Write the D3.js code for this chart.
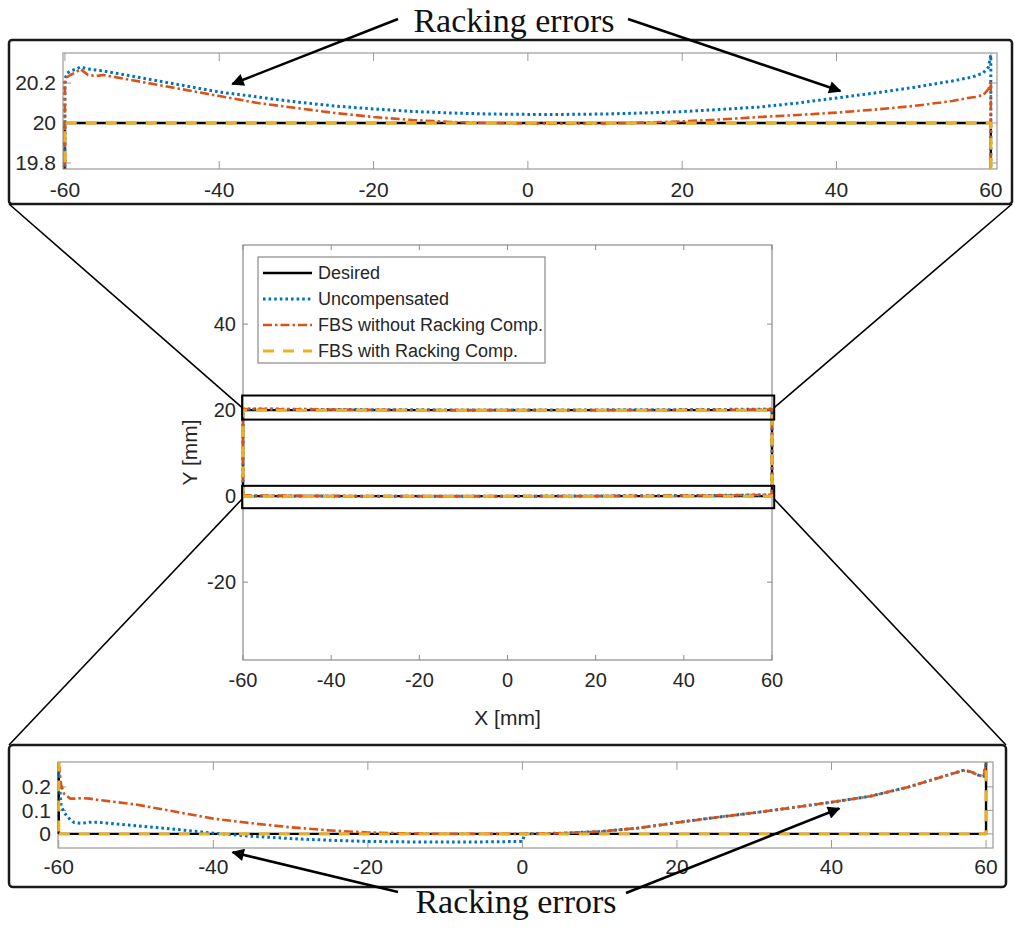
<!DOCTYPE html>
<html>
<head>
<meta charset="utf-8">
<script src="https://cdn.jsdelivr.net/npm/d3@7"></script>
<style>
body { margin: 0; background: #fff; }
text { font-family: "Liberation Sans", Arial, sans-serif; fill: #262626; }
</style>
</head>
<body>
<script>
// x positions shared by the measured paths (mm)
var xs = [-60, -59.7, -59.3, -58.5, -58, -57, -56, -55, -50, -45, -40, -35, -30, -25, -20, -15, -10, -5,
  0, 0.3, 5, 10, 15, 20, 25, 30, 35, 40, 45, 50, 55, 57, 58, 59, 59.7, 60];

// bottom edge (y ~ 0) and top edge (y ~ 20) of the traced rectangle
var blueBottom = [0.25, 0.12, 0.09, 0.06, 0.048, 0.045, 0.05, 0.05, 0.035, 0.02, 0.003, -0.01, -0.02, -0.027, -0.032, -0.034, -0.035, -0.034,
  -0.032, 0.0, 0.003, 0.01, 0.025, 0.048, 0.07, 0.09, 0.112, 0.135, 0.16, 0.2, 0.25, 0.27, 0.265, 0.25, 0.245, 0.3];
var blueTop = [20.22, 20.25, 20.26, 20.27, 20.28, 20.27, 20.265, 20.26, 20.225, 20.19, 20.155, 20.13, 20.105, 20.085, 20.07, 20.058, 20.05, 20.045,
  20.043, 20.043, 20.043, 20.045, 20.05, 20.057, 20.068, 20.08, 20.1, 20.125, 20.15, 20.178, 20.21, 20.225, 20.235, 20.25, 20.28, 20.34];
var redBottom = [0.3, 0.21, 0.17, 0.15, 0.15, 0.152, 0.15, 0.145, 0.125, 0.095, 0.065, 0.045, 0.028, 0.015, 0.006, 0.002, 0.0, 0.0,
  0.0, 0.0, 0.003, 0.01, 0.025, 0.048, 0.07, 0.09, 0.112, 0.135, 0.16, 0.2, 0.25, 0.27, 0.265, 0.25, 0.245, 0.3];
var redTop = [20.2, 20.23, 20.24, 20.255, 20.27, 20.24, 20.235, 20.24, 20.205, 20.17, 20.135, 20.1, 20.075, 20.05, 20.03, 20.015, 20.005, 20.0,
  19.998, 19.998, 19.997, 19.998, 20.002, 20.008, 20.018, 20.03, 20.04, 20.052, 20.067, 20.085, 20.11, 20.125, 20.13, 20.14, 20.17, 20.21];

// desired path and the compensated one (corners of the rectangle)
var desiredX = [-60, 60, 60, -60, -60];
var desiredY = [0, 0, 20, 20, 0];
var withCompX = [-60, 60, 60, -60, -60];
var withCompY = [0, 0, 20, 20, 0];

var legendLabels = ["Desired", "Uncompensated", "FBS without Racking Comp.", "FBS with Racking Comp."];
var xTicks = [-60, -40, -20, 0, 20, 40, 60];
var mainYTicks = [-20, 0, 20, 40];
var topYTicks = [19.8, 20, 20.2];
var bottomYTicks = [0, 0.1, 0.2];
var topYLabels = ["19.8", "20", "20.2"];
var bottomYLabels = ["0", "0.1", "0.2"];

// zoom windows marked on the main plot
var zoomX = [-60.2, 60.5];
var zoomTopY = [17.8, 23.4];
var zoomBottomY = [-2.8, 2.4];

var W = 1015, H = 930;
var svg = d3.select("body").append("svg").attr("width", W).attr("height", H);

var defs = svg.append("defs");
defs.append("marker").attr("id", "arrow")
  .attr("viewBox", "0 0 10 10").attr("refX", 9).attr("refY", 5)
  .attr("markerWidth", 6).attr("markerHeight", 5).attr("markerUnits", "strokeWidth")
  .attr("orient", "auto")
  .append("path").attr("d", "M0,0 L10,5 L0,10 z").attr("fill", "#000");

var ring = function(bottom, top){
  var pts = xs.map(function(x, i){ return [x, bottom[i]]; });
  for (var i = xs.length - 1; i >= 0; i--) pts.push([xs[i], top[i]]);
  pts.push([xs[0], bottom[0]]);
  return pts;
};
var corners = function(cx, cy){
  return cx.map(function(x, i){ return [x, cy[i]]; });
};

var series = [
  {pts: corners(desiredX, desiredY), color: "#000000", dash: null, w: 2.4},
  {pts: ring(blueBottom, blueTop), color: "#0072BD", dash: "2.6,3", w: 3},
  {pts: ring(redBottom, redTop), color: "#D95319", dash: "9,3,2.5,3", w: 2.6},
  {pts: corners(withCompX, withCompY), color: "#EDB120", dash: "11,9", w: 3}
];

var drawAxesBox = function(g, x, y, xt, yt, ylabels, tickLen, fs, labelDy, boxColor){
  var x0 = x.range()[0], x1 = x.range()[1], y0 = y.range()[0], y1 = y.range()[1];
  g.append("rect").attr("x", x0).attr("y", y1).attr("width", x1 - x0).attr("height", y0 - y1)
    .attr("fill", "#fff").attr("stroke", boxColor).attr("stroke-width", 1.2);
  xt.forEach(function(t){
    var px = x(t);
    g.append("line").attr("x1", px).attr("x2", px).attr("y1", y0).attr("y2", y0 - tickLen).attr("stroke", boxColor);
    g.append("line").attr("x1", px).attr("x2", px).attr("y1", y1).attr("y2", y1 + tickLen).attr("stroke", boxColor);
    g.append("text").attr("x", px).attr("y", y0 + labelDy).attr("text-anchor", "middle")
      .attr("font-size", fs).text(t);
  });
  yt.forEach(function(t, i){
    var py = y(t);
    g.append("line").attr("x1", x0).attr("x2", x0 + tickLen).attr("y1", py).attr("y2", py).attr("stroke", boxColor);
    g.append("line").attr("x1", x1).attr("x2", x1 - tickLen).attr("y1", py).attr("y2", py).attr("stroke", boxColor);
    g.append("text").attr("x", x0 - 7).attr("y", py).attr("dy", "0.35em").attr("text-anchor", "end")
      .attr("font-size", fs).text(ylabels ? ylabels[i] : t);
  });
};

var drawSeries = function(g, x, y, clipId){
  var line = d3.line().x(function(d){ return x(d[0]); }).y(function(d){ return y(d[1]); });
  var x0 = x.range()[0], x1 = x.range()[1], y0 = y.range()[0], y1 = y.range()[1];
  defs.append("clipPath").attr("id", clipId).append("rect")
    .attr("x", x0 - 2).attr("y", y1).attr("width", x1 - x0 + 4).attr("height", y0 - y1);
  var lg = g.append("g").attr("clip-path", "url(#" + clipId + ")");
  series.forEach(function(s){
    lg.append("path").attr("d", line(s.pts)).attr("fill", "none")
      .attr("stroke", s.color).attr("stroke-width", s.w)
      .attr("stroke-dasharray", s.dash).attr("stroke-linejoin", "round");
  });
};

// ---------- main plot ----------
var mx = d3.scaleLinear().domain([-60, 60]).range([243, 772]);
var my = d3.scaleLinear().domain([-38.1, 58.4]).range([660, 245]);
var mg = svg.append("g");
drawAxesBox(mg, mx, my, xTicks, mainYTicks, null, 5, 20, 27, "#8a8a8a");
drawSeries(mg, mx, my, "clipMain");

mg.append("text").attr("x", (243 + 772) / 2).attr("y", 725).attr("text-anchor", "middle")
  .attr("font-size", 21).text("X [mm]");
mg.append("text").attr("transform", "translate(197," + ((245 + 660) / 2) + ") rotate(-90)")
  .attr("text-anchor", "middle").attr("font-size", 21).text("Y [mm]");

// legend
var lgd = mg.append("g");
lgd.append("rect").attr("x", 258).attr("y", 257).attr("width", 287).attr("height", 106)
  .attr("fill", "#fff").attr("stroke", "#8a8a8a").attr("stroke-width", 1.2);
legendLabels.forEach(function(lab, i){
  var s = series[i], ly = 273 + i * 26;
  lgd.append("line").attr("x1", 263).attr("x2", 312).attr("y1", ly).attr("y2", ly)
    .attr("stroke", s.color).attr("stroke-width", s.w).attr("stroke-dasharray", s.dash);
  lgd.append("text").attr("x", 318).attr("y", ly).attr("dy", "0.35em").attr("font-size", 18).text(lab);
});

// zoom rectangles on main plot
var zt = {x: mx(zoomX[0]), y: my(zoomTopY[1]), w: mx(zoomX[1]) - mx(zoomX[0]), h: my(zoomTopY[0]) - my(zoomTopY[1])};
var zb = {x: mx(zoomX[0]), y: my(zoomBottomY[1]), w: mx(zoomX[1]) - mx(zoomX[0]), h: my(zoomBottomY[0]) - my(zoomBottomY[1])};
[zt, zb].forEach(function(r){
  mg.append("rect").attr("x", r.x).attr("y", r.y).attr("width", r.w).attr("height", r.h)
    .attr("fill", "none").attr("stroke", "#000").attr("stroke-width", 2);
});

// ---------- top zoom panel ----------
var tx = d3.scaleLinear().domain([-60.25, 60.8]).range([63, 997]);
var ty = d3.scaleLinear().domain([19.77, 20.35]).range([169, 53]);
var tg = svg.append("g");
tg.append("rect").attr("x", 9).attr("y", 40).attr("width", 1003).attr("height", 164).attr("rx", 3)
  .attr("fill", "#fff").attr("stroke", "#1a1a1a").attr("stroke-width", 2.5);
drawAxesBox(tg, tx, ty, xTicks, topYTicks, topYLabels, 8, 21, 28, "#9a9a9a");
drawSeries(tg, tx, ty, "clipTop");

// ---------- bottom zoom panel ----------
var bx = d3.scaleLinear().domain([-60.1, 60.9]).range([58, 993]);
var by = d3.scaleLinear().domain([-0.06, 0.306]).range([848, 762]);
var bg = svg.append("g");
bg.append("rect").attr("x", 9).attr("y", 745).attr("width", 997).attr("height", 142).attr("rx", 4)
  .attr("fill", "#fff").attr("stroke", "#1a1a1a").attr("stroke-width", 2.5);
drawAxesBox(bg, bx, by, xTicks, bottomYTicks, bottomYLabels, 8, 21, 26, "#9a9a9a");
drawSeries(bg, bx, by, "clipBottom");

// connector lines from zoom rectangles to the panels
var conn = [
  [9, 204, zt.x, zt.y + zt.h / 2],
  [1012, 204, zt.x + zt.w, zt.y + zt.h / 2],
  [zb.x, zb.y + zb.h / 2 + 2, 9, 745],
  [zb.x + zb.w, zb.y + zb.h / 2 + 2, 1006, 745]
];
conn.forEach(function(c){
  svg.append("line").attr("x1", c[0]).attr("y1", c[1]).attr("x2", c[2]).attr("y2", c[3])
    .attr("stroke", "#000").attr("stroke-width", 1.6);
});

// ---------- annotations ----------
var serif = '"Liberation Serif", "Times New Roman", serif';
svg.append("text").attr("x", 514).attr("y", 32).attr("text-anchor", "middle")
  .style("font-family", serif).attr("font-size", 34).style("fill", "#111").text("Racking errors");
svg.append("text").attr("x", 516).attr("y", 913).attr("text-anchor", "middle")
  .style("font-family", serif).attr("font-size", 34).style("fill", "#111").text("Racking errors");

var arrows = [
  [398, 19, tx(-38.3), ty(20.195)],
  [628, 19, tx(40.5), ty(20.16)],
  [398, 892, bx(-37.5), by(-0.078)],
  [626, 893, bx(41), by(0.108)]
];
arrows.forEach(function(a){
  svg.append("line").attr("x1", a[0]).attr("y1", a[1]).attr("x2", a[2]).attr("y2", a[3])
    .attr("stroke", "#000").attr("stroke-width", 2.5).attr("marker-end", "url(#arrow)");
});
</script>
</body>
</html>
